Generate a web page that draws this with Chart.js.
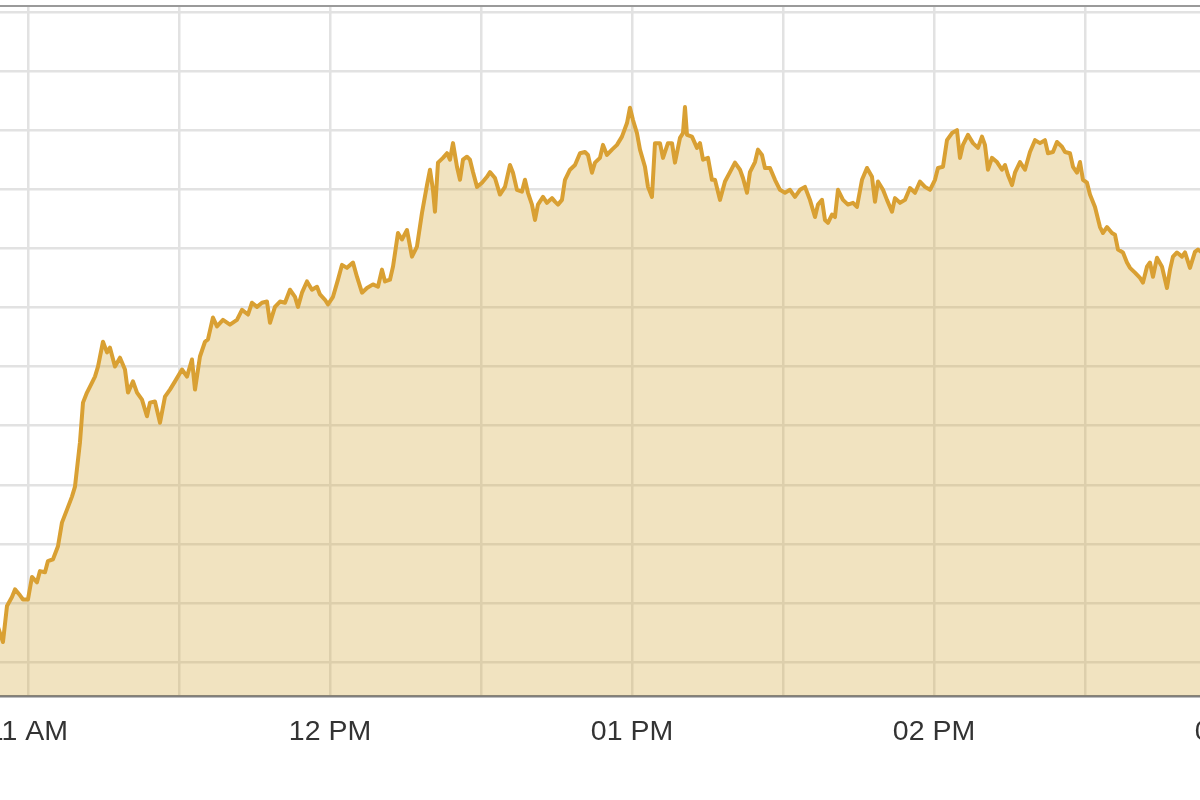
<!DOCTYPE html>
<html>
<head>
<meta charset="utf-8">
<script src="https://cdn.jsdelivr.net/npm/chart.js@4.4.1/dist/chart.umd.min.js"></script>
<style>
  html, body { margin: 0; padding: 0; background: #ffffff; overflow: hidden; }
  #view { position: relative; width: 1200px; height: 800px; overflow: hidden; background: #fff; }
  #chart { position: absolute; left: -60px; top: 0; }
</style>
</head>
<body>
<div id="view"><canvas id="chart" width="1360" height="800"></canvas></div>
<script>
// Minutes after 11:00 AM
const minutesAfter11 = [
  -5.96, -4.97, -4.17, -3.18, -2.58, -1.59, -0.99, 0, 0.79, 1.79,
  2.38, 3.38, 3.97, 4.97, 5.96, 6.75, 7.75, 8.74, 9.34, 10.33,
  10.93, 11.72, 12.72, 13.31, 13.91, 14.90, 15.70, 16.29, 17.28, 18.28,
  19.27, 19.87, 20.86, 21.66, 22.65, 23.64, 24.24, 25.23, 26.23, 27.22,
  28.21, 29.21, 30.60, 31.59, 32.58, 33.18, 34.17, 35.17, 35.76, 36.75,
  37.55, 38.74, 40.13, 41.52, 42.52, 43.71, 44.50, 45.50, 46.49, 47.48,
  48.08, 49.07, 50.07, 51.06, 52.05, 53.05, 53.64, 54.44, 55.43, 56.42,
  57.42, 58.01, 59.01, 59.60, 60.60, 61.59, 62.38, 63.38, 64.57, 65.36,
  66.36, 67.35, 68.54, 69.54, 70.33, 70.93, 71.92, 72.52, 73.51, 74.30,
  75.30, 76.29, 77.28, 78.28, 79.27, 79.87, 80.46, 80.86, 81.46, 82.45,
  83.25, 83.84, 84.44, 85.23, 85.83, 86.42, 87.22, 87.81, 88.41, 89.21,
  90.20, 91.19, 91.79, 92.78, 93.77, 94.77, 95.76, 96.36, 97.15, 98.15,
  98.74, 99.34, 100.13, 100.73, 101.32, 102.32, 103.11, 104.11, 104.70, 105.30,
  106.09, 106.69, 107.68, 108.68, 109.67, 110.66, 111.26, 112.05, 112.65, 113.64,
  114.24, 115.03, 116.03, 117.02, 118.01, 119.01, 119.60, 120.20, 120.99, 121.59,
  122.58, 123.18, 123.97, 124.57, 125.56, 126.16, 127.15, 127.95, 128.54, 129.54,
  130.13, 130.53, 130.93, 131.92, 132.91, 133.51, 134.11, 135.10, 135.89, 136.49,
  137.48, 138.48, 139.47, 140.46, 141.46, 142.05, 142.85, 143.44, 144.44, 145.03,
  145.83, 146.42, 147.42, 148.41, 149.40, 150.40, 151.39, 152.38, 153.38, 154.37,
  155.36, 156.36, 156.95, 157.75, 158.34, 158.94, 159.74, 160.33, 160.93, 161.92,
  162.91, 163.91, 164.70, 165.70, 166.69, 167.68, 168.28, 168.87, 169.87, 170.66,
  171.66, 172.25, 173.25, 174.24, 175.23, 176.23, 177.22, 178.21, 179.21, 180.20,
  180.79, 181.79, 182.58, 183.58, 184.57, 185.17, 185.76, 186.75, 187.75, 188.74,
  189.54, 190.13, 190.73, 191.52, 192.52, 193.51, 194.11, 194.70, 195.50, 196.09,
  197.09, 198.08, 199.07, 200.07, 201.06, 202.05, 202.65, 203.64, 204.44, 205.43,
  206.03, 207.02, 207.62, 208.41, 209.01, 209.60, 210.40, 210.99, 211.99, 212.98,
  213.58, 214.37, 215.36, 215.96, 216.56, 217.55, 218.34, 218.94, 219.93, 220.93,
  221.52, 222.32, 222.91, 223.51, 224.30, 225.30, 226.29, 226.89, 227.48, 228.28,
  229.27, 229.87, 230.86, 231.85, 232.45, 233.84
];

const prices = [
  1280.59, 1280.34, 1280.95, 1281.10, 1281.23, 1281.13, 1281.06, 1281.06, 1281.44, 1281.35,
  1281.54, 1281.52, 1281.71, 1281.74, 1281.96, 1282.36, 1282.58, 1282.80, 1282.97, 1283.72,
  1284.39, 1284.56, 1284.73, 1284.83, 1285.00, 1285.42, 1285.24, 1285.32, 1285.00, 1285.15,
  1284.95, 1284.56, 1284.75, 1284.56, 1284.44, 1284.16, 1284.39, 1284.41, 1284.05, 1284.49,
  1284.61, 1284.75, 1284.95, 1284.83, 1285.12, 1284.61, 1285.17, 1285.42, 1285.46, 1285.83,
  1285.68, 1285.79, 1285.71, 1285.79, 1285.96, 1285.88, 1286.08, 1286.01, 1286.08, 1286.10,
  1285.74, 1286.01, 1286.10, 1286.08, 1286.30, 1286.18, 1286.01, 1286.25, 1286.44, 1286.30,
  1286.35, 1286.22, 1286.13, 1286.05, 1286.18, 1286.47, 1286.72, 1286.67, 1286.76, 1286.52,
  1286.25, 1286.33, 1286.39, 1286.35, 1286.64, 1286.44, 1286.47, 1286.69, 1287.26, 1287.15,
  1287.31, 1286.86, 1287.03, 1287.60, 1288.07, 1288.33, 1287.99, 1287.62, 1288.45, 1288.53,
  1288.61, 1288.50, 1288.78, 1288.38, 1288.16, 1288.50, 1288.55, 1288.50, 1288.29, 1288.04,
  1288.11, 1288.21, 1288.29, 1288.19, 1287.91, 1288.04, 1288.41, 1288.28, 1287.99, 1287.96,
  1288.16, 1287.94, 1287.74, 1287.48, 1287.74, 1287.87, 1287.77, 1287.85, 1287.79, 1287.74,
  1287.82, 1288.16, 1288.33, 1288.41, 1288.61, 1288.63, 1288.58, 1288.28, 1288.45, 1288.53,
  1288.75, 1288.58, 1288.67, 1288.75, 1288.89, 1289.12, 1289.38, 1289.17, 1288.95, 1288.67,
  1288.38, 1288.04, 1287.87, 1288.78, 1288.78, 1288.53, 1288.78, 1288.78, 1288.45, 1288.87,
  1288.95, 1289.39, 1288.92, 1288.89, 1288.70, 1288.78, 1288.50, 1288.53, 1288.16, 1288.16,
  1287.82, 1288.13, 1288.29, 1288.45, 1288.33, 1288.19, 1287.94, 1288.29, 1288.46, 1288.67,
  1288.58, 1288.36, 1288.36, 1288.16, 1287.99, 1287.94, 1287.99, 1287.87, 1287.99, 1288.04,
  1287.82, 1287.53, 1287.74, 1287.82, 1287.48, 1287.43, 1287.57, 1287.53, 1287.99, 1287.82,
  1287.74, 1287.77, 1287.70, 1288.16, 1288.36, 1288.21, 1287.79, 1288.13, 1287.99, 1287.82,
  1287.62, 1287.85, 1287.77, 1287.82, 1288.02, 1287.94, 1288.13, 1288.04, 1287.99, 1288.16,
  1288.36, 1288.38, 1288.83, 1288.95, 1289.00, 1288.53, 1288.75, 1288.92, 1288.78, 1288.70,
  1288.89, 1288.75, 1288.33, 1288.53, 1288.46, 1288.33, 1288.41, 1288.24, 1288.07, 1288.28,
  1288.46, 1288.33, 1288.63, 1288.83, 1288.78, 1288.83, 1288.61, 1288.63, 1288.80, 1288.72,
  1288.63, 1288.61, 1288.38, 1288.28, 1288.46, 1288.16, 1288.11, 1287.91, 1287.70, 1287.36,
  1287.26, 1287.36, 1287.26, 1287.23, 1286.98, 1286.93, 1286.76, 1286.67, 1286.59, 1286.50,
  1286.42, 1286.69, 1286.76, 1286.52, 1286.84, 1286.69, 1286.33, 1286.64, 1286.86, 1286.93,
  1286.86, 1286.93, 1286.67, 1286.94, 1286.98, 1286.89
];

// Tick positions (minutes after 11:00) and their labels
const tickMinutes = [0, 30, 60, 90, 120, 150, 180, 210, 240];
const tickLabels  = ['11 AM', '', '12 PM', '', '01 PM', '', '02 PM', '', '03 PM'];
// Horizontal grid values
const priceTicks = [1280, 1281, 1282, 1283, 1284, 1285, 1286, 1287, 1288, 1289, 1290, 1291];

const xMin = -17.48, xMax = 252.72;
const yMin = 1279.43, yMax = 1291.10;

const ctx = document.getElementById('chart').getContext('2d');
new Chart(ctx, {
  type: 'line',
  data: {
    datasets: [{
      data: minutesAfter11.map((m, i) => ({ x: m, y: prices[i] })),
      borderColor: '#d9a033',
      backgroundColor: 'rgba(208,162,48,0.30)',
      borderWidth: 4,
      pointRadius: 0,
      tension: 0,
      fill: 'start',
      borderJoinStyle: 'round'
    }]
  },
  options: {
    responsive: false,
    devicePixelRatio: 1,
    animation: false,
    events: [],
    layout: { padding: { top: 6, bottom: 32, left: 0, right: 0 } },
    plugins: { legend: { display: false }, tooltip: { enabled: false } },
    scales: {
      x: {
        type: 'linear',
        position: 'bottom',
        min: xMin, max: xMax,
        afterBuildTicks: (s) => { s.ticks = tickMinutes.map(v => ({ value: v })); },
        ticks: {
          autoSkip: false, maxRotation: 0, minRotation: 0,
          padding: 19,
          color: '#333333',
          font: { family: 'Liberation Sans, Arial, sans-serif', size: 28.5 },
          callback: (v, i) => tickLabels[i]
        },
        grid: { color: '#e2e2e2', lineWidth: 2.5, drawTicks: false },
        border: { display: true, color: '#7f7f7f', width: 2.5 }
      },
      xTop: {
        type: 'linear',
        position: 'top',
        min: xMin, max: xMax,
        ticks: { display: false },
        grid: { display: false, drawTicks: false },
        border: { display: true, color: '#9a9a9a', width: 2 }
      },
      y: {
        type: 'linear',
        min: yMin, max: yMax,
        afterBuildTicks: (s) => { s.ticks = priceTicks.map(v => ({ value: v })); },
        ticks: { display: false },
        grid: { color: '#e2e2e2', lineWidth: 2.5, drawTicks: false },
        border: { display: false }
      }
    }
  }
});
</script>
</body>
</html>
